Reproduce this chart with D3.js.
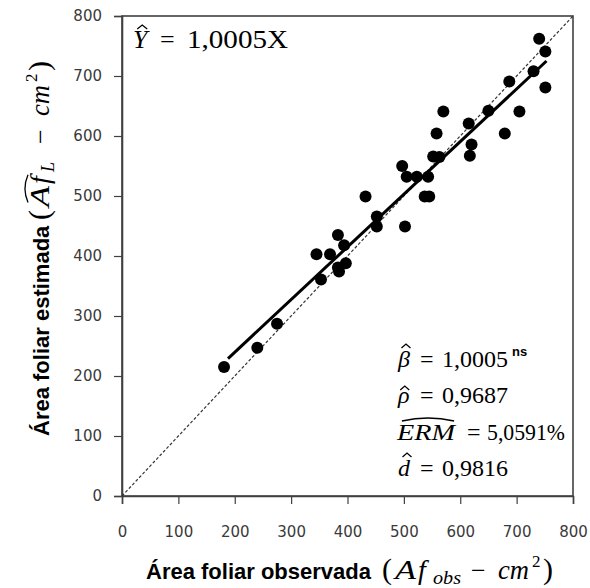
<!DOCTYPE html>
<html><head><meta charset="utf-8">
<script src="https://cdn.jsdelivr.net/npm/d3@7"></script>
<style>body{margin:0;background:#fff}svg{display:block}</style>
</head><body>
<svg id="c" width="590" height="588"></svg>
<script>
// ---- data ----
const observed  = [181,240,275,345,369,353,383,394,383,397,385,432,452,452,502,497,505,523,543,537,545,552,563,558,570,615,620,617,650,679,705,687,730,751,751,740];
const estimated = [215,247,287,403,403,361,435,418,381,388,374,499,466,449,449,550,532,532,532,499,499,566,565,604,641,621,586,567,642,604,641,691,708,741,681,762];
const xTicks = [0,100,200,300,400,500,600,700,800];
const yTicks = [0,100,200,300,400,500,600,700,800];
const fitX = [188, 753];
const fitY = [229, 725];
const equationValue = "1,0005X";
const statValues = ["1,0005", "0,9687", "5,0591%", "0,9816"];

// ---- layout ----
const svg = d3.select("#c");
const x = d3.scaleLinear().domain([0,800]).range([122,573]);
const y = d3.scaleLinear().domain([0,800]).range([496,16]);
const SERIF = "'Liberation Serif', 'Times New Roman', serif";
const SANS = "'Liberation Sans', Arial, sans-serif";
const TICKF = "'DejaVu Sans', Verdana, sans-serif";
const INK = "#404040";

// plot box
svg.append("rect").attr("x", x(0)).attr("y", y(800)).attr("width", x(800)-x(0)).attr("height", y(0)-y(800))
  .attr("fill","none").attr("stroke", INK).attr("stroke-width", 1.6);

// axes
const xAxis = d3.axisBottom(x).tickValues(xTicks).tickSize(8).tickPadding(22).tickFormat(d3.format("d"));
const gx = svg.append("g").attr("transform", `translate(0,${y(0)})`).call(xAxis);
const yAxis = d3.axisLeft(y).tickValues(yTicks).tickSize(8).tickPadding(12).tickFormat(d3.format("d"));
const gy = svg.append("g").attr("transform", `translate(${x(0)},0)`).call(yAxis);
[gx, gy].forEach(g => {
  g.select(".domain").attr("stroke", INK).attr("stroke-width", 1.6);
  g.selectAll(".tick line").attr("stroke", INK).attr("stroke-width", 1.2);
  g.selectAll(".tick text").attr("font-family", TICKF).attr("font-size", 15).attr("fill", "#3a3a3a");
});

// 1:1 dashed line
svg.append("line").attr("x1", x(0)).attr("y1", y(0)).attr("x2", x(800)).attr("y2", y(800))
  .attr("stroke", "#333").attr("stroke-width", 1.2).attr("stroke-dasharray", "3,2");

// fitted line
svg.append("line").attr("x1", x(fitX[0])).attr("y1", y(fitY[0])).attr("x2", x(fitX[1])).attr("y2", y(fitY[1]))
  .attr("stroke", "#000").attr("stroke-width", 3);

// points
svg.append("g").selectAll("circle").data(observed.map((o,i)=>[o, estimated[i]])).join("circle")
  .attr("cx", d=>x(d[0])).attr("cy", d=>y(d[1])).attr("r", 6).attr("fill", "#000");

// ---- math text helper ----
function mathRow(parent, x0, y0, segs) {
  const g = parent.append("g");
  let cx = x0;
  segs.forEach(s => {
    if (s.at != null) cx = x0 + s.at;
    const t = g.append("text").attr("x", cx).attr("y", y0 + (s.dy||0)).text(s.t)
      .attr("font-family", s.fam || SERIF).attr("font-size", s.size || 24)
      .attr("font-style", s.it ? "italic" : "normal").attr("font-weight", s.b ? "bold" : "normal")
      .attr("fill", "#000");
    if (s.len) t.attr("textLength", s.len).attr("lengthAdjust", "spacingAndGlyphs");
    const w = s.len || t.node().getComputedTextLength();
    s._x0 = cx; s._x1 = cx + w;
    cx += w + (s.gap || 0);
  });
  segs.forEach((s,i) => {
    if (!s.hat) return;
    const h = s.hat;
    const last = segs[i + (h.span||1) - 1];
    const a = s._x0, b = last._x1;
    const hw = h.w != null ? h.w : (b - a) * 0.9;
    const xm = (a + b) / 2 + (h.skew || 0);
    const yb = y0 + h.base, yt = y0 + h.base - h.h;
    const d = h.curve
      ? `M ${xm-hw/2} ${yb} Q ${xm} ${yt-h.h} ${xm+hw/2} ${yb}`
      : `M ${xm-hw/2} ${yb} L ${xm} ${yt} L ${xm+hw/2} ${yb}`;
    g.append("path").attr("d", d)
      .attr("fill","none").attr("stroke","#000").attr("stroke-width", h.sw || 1.3);
  });
  return cx;
}

// equation
mathRow(svg, 133, 48, [
  {t:"Y", it:true, size:26, hat:{base:-19, h:4, w:10, skew:2}},
  {t:"=", size:26, at:27},
  {t:equationValue, size:26, at:54, len:101}
]);

// statistics
const sx = 397;
const baseY = [367, 403, 440, 476];
mathRow(svg, sx, baseY[0], [
  {t:"β", it:true, at:1, hat:{base:-19, h:4, w:9, skew:2}},
  {t:"=", at:23},
  {t:statValues[0], at:45, len:66},
  {t:"ns", fam:SANS, b:true, size:13, dy:-11, at:115}
]);
mathRow(svg, sx, baseY[1], [
  {t:"ρ", it:true, at:1, hat:{base:-13, h:4, w:9, skew:1}},
  {t:"=", at:23},
  {t:statValues[1], at:45, len:66}
]);
mathRow(svg, sx, baseY[2], [
  {t:"ERM", it:true, at:0, len:58, hat:{base:-19, h:3, curve:true, skew:2}},
  {t:"=", at:70},
  {t:statValues[2], at:90, len:78}
]);
mathRow(svg, sx, baseY[3], [
  {t:"d", it:true, at:1, hat:{base:-19, h:4, w:9, skew:3}},
  {t:"=", at:23},
  {t:statValues[3], at:45, len:66}
]);

// x label
mathRow(svg, 146, 579, [
  {t:"Área foliar observada", fam:SANS, b:true, size:22},
  {t:"(", size:30, at:236},
  {t:"A", it:true, size:28, at:249, len:21},
  {t:"f", it:true, size:28, at:272},
  {t:"obs", it:true, size:19, dy:5, at:287, len:28},
  {t:"−", size:26, at:325},
  {t:"cm", it:true, size:28, at:352, len:31},
  {t:"2", size:17, dy:-12, at:386},
  {t:")", size:30, at:397}
]);

// y label
const gyl = svg.append("g").attr("transform", "translate(49,436) rotate(-90)");
mathRow(gyl, 0, 0, [
  {t:"Área foliar estimada", fam:SANS, b:true, size:22},
  {t:"(", size:30, at:216},
  {t:"A", it:true, size:28, at:229, len:21, hat:{base:-21, h:3, span:2, curve:true, skew:3}},
  {t:"f", it:true, size:28, at:252},
  {t:"L", it:true, size:18, dy:5, at:264},
  {t:"−", size:26, at:292},
  {t:"cm", it:true, size:28, at:320, len:31},
  {t:"2", size:17, dy:-12, at:354},
  {t:")", size:30, at:365}
]);
</script>
</body></html>
